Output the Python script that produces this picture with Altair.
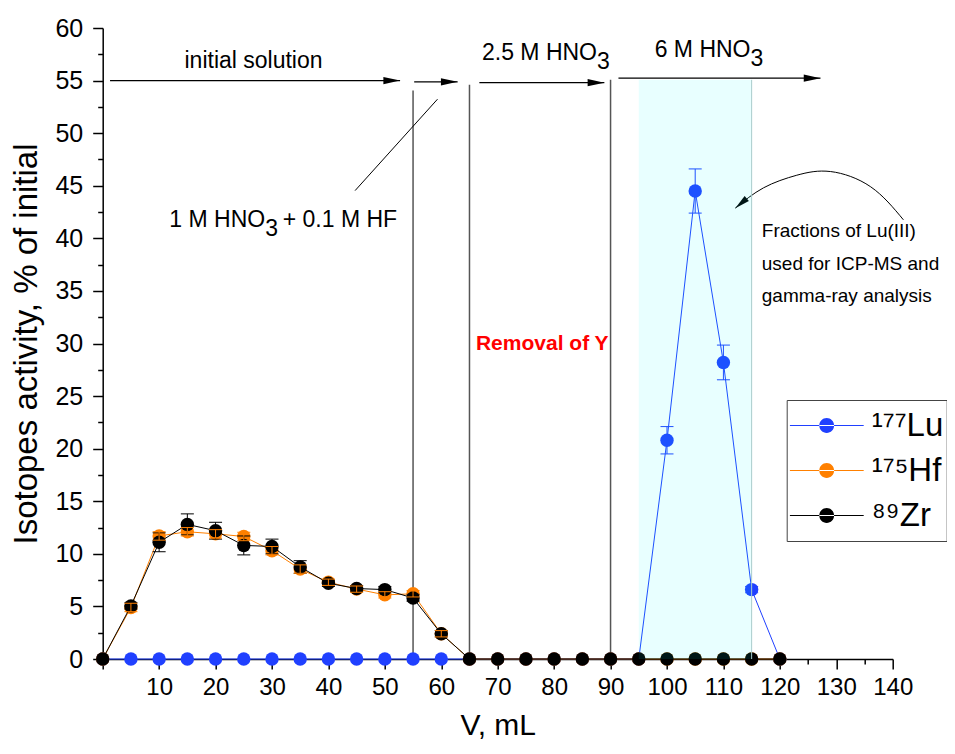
import altair as alt
import pandas as pd

# ---------------- data ----------------
V = list(range(0, 125, 5))
LU = [0] * 20 + [20.8, 44.5, 28.2, 6.6, 0]
LU_ERR = [0] * 20 + [1.3, 2.1, 1.65, 0.3, 0]
HF = [0, 4.9, 11.7, 12.1, 11.9, 11.65, 10.3, 8.55, 7.3, 6.65, 6.1, 6.2, 2.4] + [0] * 12
HF_ERR = [0, 0.4, 0.4, 0.4, 0.4, 0.4, 0.4, 0.4, 0.3, 0.3, 0.3, 0.3, 0.3] + [0] * 12
ZR = [0, 5.05, 11.1, 12.8, 12.2, 10.8, 10.7, 8.75, 7.2, 6.7, 6.6, 5.8, 2.4] + [0] * 12
ZR_ERR = [0, 0.3, 0.9, 1.0, 0.8, 0.9, 0.7, 0.6, 0.3, 0.3, 0.3, 0.3, 0.3] + [0] * 12

SERIES = ["\u00b9\u2077\u2077Lu", "\u00b9\u2077\u2075Hf", "\u2078\u2079Zr"]
COLORS = ["#2040ff", "#ff8000", "#000000"]

# annotation values (data units)
ARROW_X1 = [1.3, 55.2, 66.75, 91.4]
ARROW_X2 = [52.7, 62.9, 88.9, 127.2]
ARROW_Y = [55.0, 54.88, 54.8, 55.23]
VLINE_X = [55, 65, 90]
VLINE_TOP = [54.05, 54.6, 55.07]
BAND = {"x1": 95, "x2": 115, "y1": 0, "y2": 55.07}
POINTER_X = [44.73, 59.33]
POINTER_Y = [44.54, 53.23]
CURVE_X = [112.1, 117.1, 123.0, 129.0, 136.1, 141.9]
CURVE_Y = [42.87, 44.8, 46.0, 46.35, 44.9, 41.76]
CURVE_HEAD_ANGLE = 140

# ---------------- frames ----------------
rows = []
for name, vals, errs in zip(SERIES, [LU, HF, ZR], [LU_ERR, HF_ERR, ZR_ERR]):
    for v, y, e in zip(V, vals, errs):
        rows.append({"series": name, "V": v, "val": y, "err": e, "lo": y - e, "hi": y + e})
df = pd.DataFrame(rows)

xs = alt.Scale(domain=[0, 140], nice=False, zero=False)
ys = alt.Scale(domain=[0, 60], nice=False, zero=False)

XAXIS = alt.Axis(
    values=list(range(0, 145, 5)),
    labelExpr="datum.value % 10 === 0 && datum.value > 0 ? '' + datum.value : ''",
    tickSize={"condition": {"test": "datum.value % 10 === 0", "value": 10}, "value": 5},
    title="V, mL", titleFontSize=30, titleFontWeight="normal", titlePadding=11,
    labelFontSize=24, labelPadding=6, grid=False, domainColor="black", domainWidth=1.5,
    tickColor="black", tickWidth=1.5, labelColor="black", titleColor="black",
    labelFlush=False, labelOverlap=False,
)
YAXIS = alt.Axis(
    values=[i * 2.5 for i in range(25)],
    labelExpr="datum.value % 5 === 0 ? '' + datum.value : ''",
    tickSize={"condition": {"test": "datum.value % 5 === 0", "value": 10}, "value": 5},
    title="Isotopes activity, % of initial", titleFontSize=33, titleFontWeight="normal",
    titlePadding=11, labelFontSize=25, labelPadding=10, grid=False, domainColor="black",
    domainWidth=1.5, tickColor="black", tickWidth=1.5, labelColor="black", titleColor="black",
    labelFlush=False, labelOverlap=False,
)


def X(f):
    return alt.X(f, type="quantitative", scale=xs, axis=XAXIS)


def Y(f):
    return alt.Y(f, type="quantitative", scale=ys, axis=YAXIS)


LEG_PATH = ("M-1,-0.0135L1,-0.0135L1,0.0135L-1,0.0135Z "
            "M-0.2,0A0.2,0.2 0 1,0 0.2,0A0.2,0.2 0 1,0 -0.2,0Z")
LEG = alt.Legend(
    title=None, orient="none", legendX=684, legendY=372, symbolType=LEG_PATH,
    symbolSize=5476, symbolStrokeWidth=0, symbolOpacity=1, clipHeight=45, rowPadding=0,
    padding=3, labelFontSize=33, labelOffset=8, labelColor="black", strokeColor="#444",
    fillColor="white", cornerRadius=0, labelBaseline="middle",
)
CS = alt.Scale(domain=SERIES, range=COLORS)

layers = []

# vertical separators
vl = pd.DataFrame({"x": VLINE_X, "top": VLINE_TOP, "bot": [0] * len(VLINE_X)})
layers.append(alt.Chart(vl).mark_rule(color="#555555", strokeWidth=1.5).encode(
    x=X("x"), y=Y("bot"), y2="top"))

# horizontal arrows
ar = pd.DataFrame({"x1": ARROW_X1, "x2": ARROW_X2, "y": ARROW_Y})
HEAD = "M0,0L-1,-0.22L-1,0.22Z"
layers.append(alt.Chart(ar).mark_rule(color="black", strokeWidth=1.2).encode(
    x=X("x1"), x2="x2", y=Y("y")))
layers.append(alt.Chart(ar).mark_point(shape=HEAD, filled=True, size=1115, color="black",
                                       opacity=1, strokeWidth=0).encode(x=X("x2"), y=Y("y")))

# pointer line
pl = pd.DataFrame({"x": POINTER_X, "y": POINTER_Y})
layers.append(alt.Chart(pl).mark_line(color="black", strokeWidth=1).encode(x=X("x"), y=Y("y")))

# curved arrow
cv = pd.DataFrame({"x": CURVE_X, "y": CURVE_Y})
layers.append(alt.Chart(cv).mark_line(color="black", strokeWidth=1, interpolate="natural").encode(
    x=X("x"), y=Y("y")))
ch = pd.DataFrame({"x": [CURVE_X[0]], "y": [CURVE_Y[0]], "a": [CURVE_HEAD_ANGLE]})
layers.append(alt.Chart(ch).mark_point(shape=HEAD, filled=True, size=900, color="black",
                                       opacity=1, strokeWidth=0).encode(
    x=X("x"), y=Y("y"), angle=alt.Angle("a:Q", scale=None)))

# series lines + points
for name, col in zip(SERIES, COLORS):
    d = df[df.series == name]
    layers.append(alt.Chart(d).mark_line(color=col, strokeWidth=1).encode(x=X("V"), y=Y("val")))
    layers.append(alt.Chart(d).mark_circle(size=180, opacity=1).encode(
        x=X("V"), y=Y("val"), color=alt.Color("series:N", scale=CS, legend=LEG)))

# error bars (Zr, Hf, Lu)
for name, col in [(SERIES[2], COLORS[2]), (SERIES[1], COLORS[1]), (SERIES[0], COLORS[0])]:
    d = df[(df.series == name) & (df.err > 0)]
    layers.append(alt.Chart(d).mark_rule(color=col, strokeWidth=1).encode(
        x=X("V"), y=Y("lo"), y2="hi"))
    for f in ["lo", "hi"]:
        layers.append(alt.Chart(d).mark_tick(color=col, orient="horizontal", size=13,
                                             thickness=1, opacity=1).encode(x=X("V"), y=Y(f)))

# shaded fraction band
bd = pd.DataFrame([BAND])
layers.append(alt.Chart(bd).mark_rect(color="#00ffff", opacity=0.09).encode(
    x=X("x1"), x2="x2", y=Y("y1"), y2="y2"))
layers.append(alt.Chart(bd).mark_rule(color="#a8cccc", strokeWidth=1).encode(
    x=X("x2"), y=Y("y1"), y2="y2"))

# texts
T_INIT = pd.DataFrame({"x": [26.73], "y": [56.2], "t": ["initial solution"]})
layers.append(alt.Chart(T_INIT).mark_text(fontSize=23, align="center",
                                          baseline="alphabetic", color="black").encode(
    x=X("x"), y=Y("y"), text="t:N"))
T_FRAC = pd.DataFrame({"x": [116.8, 116.8, 116.8], "y": [40.17, 37.0, 33.9],
                       "t": ["Fractions of Lu(III)", "used for ICP-MS and", "gamma-ray analysis"]})
layers.append(alt.Chart(T_FRAC).mark_text(fontSize=19, align="left",
                                          baseline="alphabetic", color="black").encode(
    x=X("x"), y=Y("y"), text="t:N"))

T_MAIN = pd.DataFrame({"x": [87.6, 114.8, 28.8], "y": [57.0, 57.2, 41.1],
                       "t": ["2.5 M HNO", "6 M HNO", "1 M HNO"]})
layers.append(alt.Chart(T_MAIN).mark_text(fontSize=23, align="right", baseline="alphabetic",
                                          color="black").encode(x=X("x"), y=Y("y"), text="t:N"))
T_SUB = pd.DataFrame({"x": [87.6, 114.8, 28.8], "y": [57.0, 57.2, 41.1], "t": ["3", "3", "3"]})
layers.append(alt.Chart(T_SUB).mark_text(fontSize=23, align="left", baseline="alphabetic",
                                         dy=9, color="black").encode(x=X("x"), y=Y("y"), text="t:N"))
T_TAIL = pd.DataFrame({"x": [31.9], "y": [41.1], "t": ["+ 0.1 M HF"]})
layers.append(alt.Chart(T_TAIL).mark_text(fontSize=23, align="left", baseline="alphabetic",
                                          color="black").encode(x=X("x"), y=Y("y"), text="t:N"))
T_RED = pd.DataFrame({"x": [77.9], "y": [29.4], "t": ["Removal of Y"]})
layers.append(alt.Chart(T_RED).mark_text(fontSize=21, fontWeight="bold", align="center",
                                         baseline="alphabetic", color="#ff0000").encode(
    x=X("x"), y=Y("y"), text="t:N"))

chart = alt.layer(*layers).properties(
    width=790, height=631,
    padding={"left": 94.7, "top": 20, "right": 54.3, "bottom": 81},
    autosize=alt.AutoSizeParams(type="none"),
).configure(font="Liberation Sans").configure_view(stroke=None)

chart.save("out.html", embed_options={"renderer": "svg", "actions": False})
